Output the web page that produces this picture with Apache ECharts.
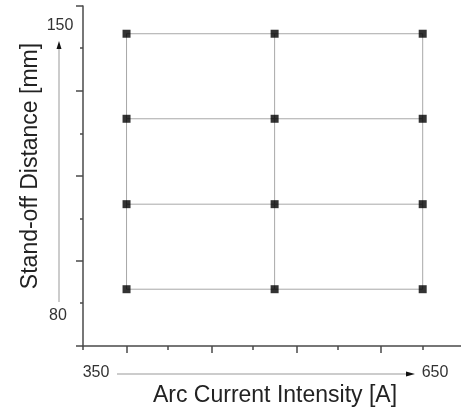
<!DOCTYPE html>
<html>
<head>
<meta charset="UTF-8">
<title>Stand-off Distance vs Arc Current</title>
<script src="https://cdn.jsdelivr.net/npm/echarts@6/dist/echarts.min.js"></script>
<style>
  html, body { margin: 0; padding: 0; background: #fff; }
  #chart { width: 461px; height: 411px; }
</style>
</head>
<body>
<div id="chart"></div>
<script>
// experimental design points
const currents = [350, 500, 650];          // Arc Current Intensity [A]
const distances = [80, 103.3, 126.7, 150];  // Stand-off Distance [mm]

// decorative tick positions (data units)
const xMajorTicks = [350.2, 436.3, 522.4, 607.5];
const xMinorTicks = [306, 392.0, 478.1, 564.2, 650.0];
const yMajorTicks = [64.5, 87.7, 111.0, 134.4, 157.6];
const yMinorTicks = [76.2, 99.4, 122.7, 146.1];

// range labels next to the arrows
const xRangeLabels = ['350', '650'];
const yRangeLabels = ['150', '80'];

const axisColor = '#4a4a4a';
const lineColor = '#a8a8a8';
const font = '"Liberation Sans", Arial, sans-serif';

var chart = echarts.init(document.getElementById('chart'));

// grid lines between the design points
var series = [];
currents.forEach(c => {
  series.push({
    type: 'line',
    data: distances.map(d => [c, d]),
    symbol: 'none',
    silent: true,
    lineStyle: { color: lineColor, width: 1 }
  });
});
distances.forEach(d => {
  series.push({
    type: 'line',
    data: currents.map(c => [c, d]),
    symbol: 'none',
    silent: true,
    lineStyle: { color: lineColor, width: 1 }
  });
});
var points = [];
currents.forEach(c => distances.forEach(d => points.push([c, d])));
series.push({
  type: 'scatter',
  data: points,
  symbol: 'rect',
  symbolSize: 8,
  itemStyle: { color: '#000' },
  z: 5
});

function xAxisDef(ticks, len, showLine) {
  return {
    type: 'value', min: 305.9, max: 688.8, position: 'bottom',
    axisLine: { show: showLine, lineStyle: { color: axisColor, width: 1.5 } },
    axisTick: { show: true, customValues: ticks, length: len, lineStyle: { color: axisColor, width: 1.5 } },
    axisLabel: { show: false },
    splitLine: { show: false }
  };
}
function yAxisDef(ticks, len, showLine) {
  return {
    type: 'value', min: 64.44, max: 157.6, position: 'left',
    axisLine: { show: showLine, lineStyle: { color: axisColor, width: 1.5 } },
    axisTick: { show: true, customValues: ticks, length: len, lineStyle: { color: axisColor, width: 1.5 } },
    axisLabel: { show: false },
    splitLine: { show: false }
  };
}

var txt = { fill: '#333', font: '16px ' + font, textAlign: 'center', textVerticalAlign: 'middle' };
var option = {
  animation: false,
  grid: { left: 83, right: 0, top: 6, bottom: 65 },
  xAxis: [xAxisDef(xMajorTicks, 7, true), xAxisDef(xMinorTicks, 4, false)],
  yAxis: [yAxisDef(yMajorTicks, 7, true), yAxisDef(yMinorTicks, 3, false)],
  series: series,
  graphic: [
    // vertical arrow
    { type: 'line', shape: { x1: 59, y1: 302, x2: 59, y2: 48 }, style: { stroke: '#999', lineWidth: 1 } },
    { type: 'polygon', shape: { points: [[59, 41], [56.5, 49], [61.5, 49]] }, style: { fill: '#111' } },
    // horizontal arrow
    { type: 'line', shape: { x1: 117, y1: 374, x2: 407, y2: 374 }, style: { stroke: '#999', lineWidth: 1 } },
    { type: 'polygon', shape: { points: [[415, 374], [406, 371.5], [406, 376.5]] }, style: { fill: '#111' } },
    { type: 'text', x: 60, y: 26, style: Object.assign({ text: yRangeLabels[0] }, txt) },
    { type: 'text', x: 58, y: 316, style: Object.assign({ text: yRangeLabels[1] }, txt) },
    { type: 'text', x: 96, y: 373, style: Object.assign({ text: xRangeLabels[0] }, txt) },
    { type: 'text', x: 435, y: 373, style: Object.assign({ text: xRangeLabels[1] }, txt) },
    // axis titles
    { type: 'text', x: 275, y: 396, style: { text: 'Arc Current Intensity [A]', fill: '#222', font: '23px ' + font, textAlign: 'center', textVerticalAlign: 'middle' } },
    { type: 'text', x: 31, y: 166, rotation: Math.PI / 2, style: { text: 'Stand-off Distance [mm]', fill: '#222', font: '23px ' + font, textAlign: 'center', textVerticalAlign: 'middle' } }
  ]
};
chart.setOption(option);
</script>
</body>
</html>
